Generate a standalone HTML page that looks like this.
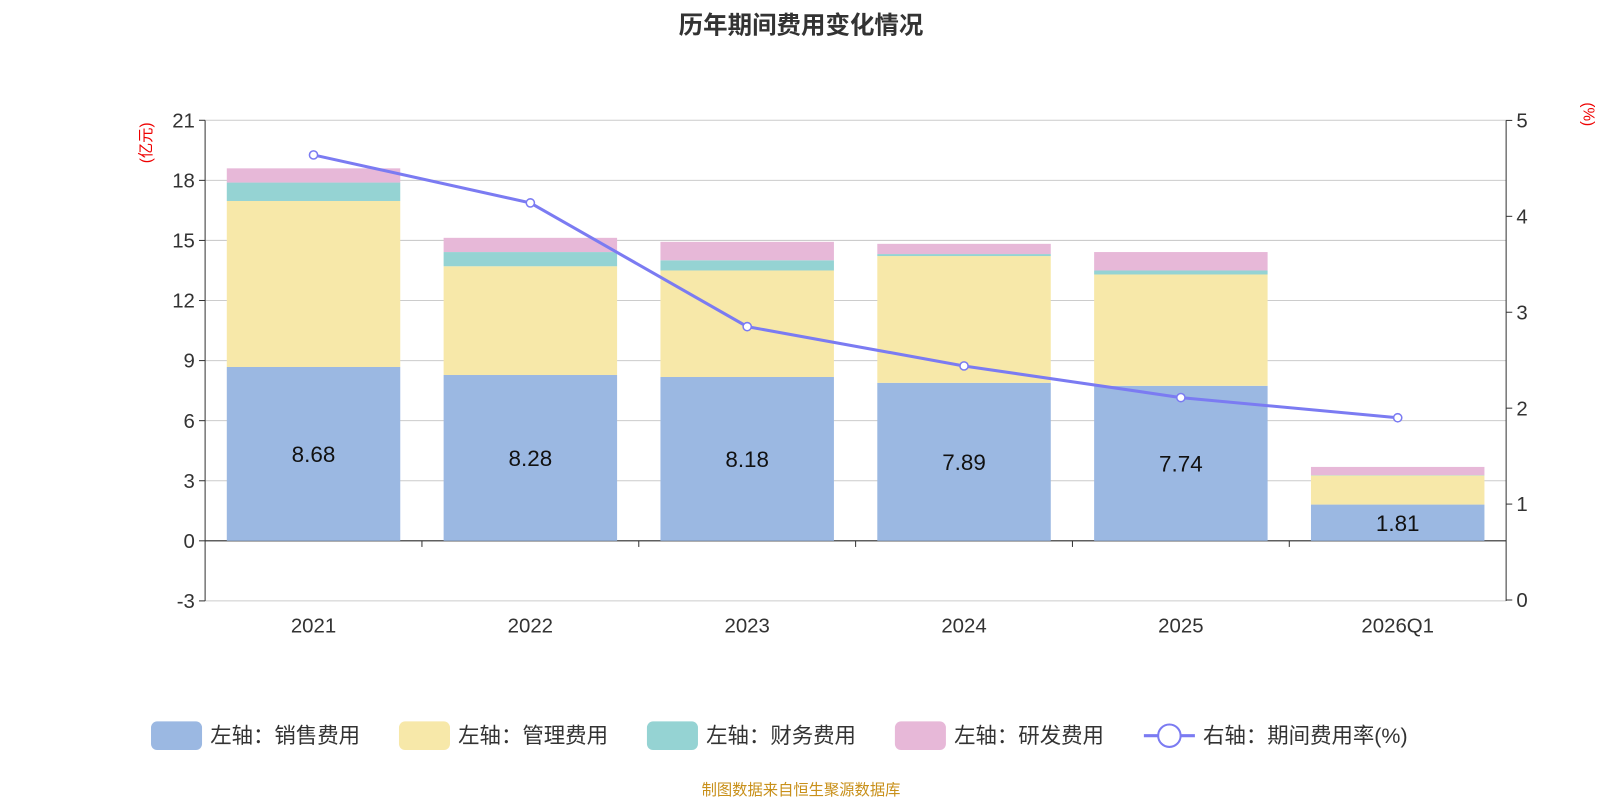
<!DOCTYPE html>
<html><head><meta charset="utf-8"><style>
body{margin:0;background:#fff;width:1600px;height:800px;overflow:hidden;font-family:"Liberation Sans","Noto Sans CJK SC",sans-serif}
</style></head><body>
<svg id="c" width="1600" height="800" viewBox="0 0 1568 784" xmlns="http://www.w3.org/2000/svg">
<text x="785" y="33" text-anchor="middle" font-size="24" font-weight="bold" fill="#333">历年期间费用变化情况</text>
<text transform="translate(148,140) rotate(-90)" text-anchor="middle" font-size="15" fill="#e00">(亿元)</text>
<text transform="translate(1552,112) rotate(90)" text-anchor="middle" font-size="15" fill="#e00">(%)</text>
<text x="785" y="779" text-anchor="middle" font-size="15" fill="#c8901a">制图数据来自恒生聚源数据库</text>
</svg>
<script>
const categories=["2021","2022","2023","2024","2025","2026Q1"];
const sales=[8.68,8.28,8.18,7.89,7.74,1.81];
const mgmt=[8.29,5.43,5.32,6.33,5.56,1.45];
const fin=[0.92,0.71,0.51,0.10,0.20,0.02];
const rnd=[0.71,0.71,0.92,0.51,0.92,0.41];
const rate=[4.64,4.14,2.85,2.44,2.11,1.90];
const leftTicks=[-3,0,3,6,9,12,15,18,21];
const rightTicks=[0,1,2,3,4,5];
const svg=document.getElementById('c');const NS="http://www.w3.org/2000/svg";
const X0=201,X1=1476,band=(X1-X0)/categories.length;
const yL=v=>530-v*19.625, yR=v=>588-v*94, xc=i=>X0+band*(i+0.5);
function el(t,a,p){const e=document.createElementNS(NS,t);for(const k in a)e.setAttribute(k,a[k]);(p||svg).appendChild(e);return e;}
leftTicks.forEach(v=>{
 const g=el('line',{x1:X0,x2:X1,y1:yL(v),y2:yL(v),stroke:'#ccc'});
 
 
 el('line',{x1:X0-6,x2:X0,y1:yL(v),y2:yL(v),stroke:'#333'});
 const t=el('text',{x:X0-10,y:yL(v)+7,'text-anchor':'end','font-size':20,fill:'#333'});t.textContent=v;
 
 
});
rightTicks.forEach(v=>{
 el('line',{x1:X1,x2:X1+6,y1:yR(v),y2:yR(v),stroke:'#333'});
 const t=el('text',{x:X1+10,y:yR(v)+7,'font-size':20,fill:'#333'});t.textContent=v;
 
 
});
el('line',{x1:X0,x2:X0,y1:118,y2:589,stroke:'#333'});
el('line',{x1:X1,x2:X1,y1:118,y2:589,stroke:'#333'});
el('line',{x1:X0,x2:X1,y1:530,y2:530,stroke:'#333'});
const series=[[sales,'#9bb8e2','sales'],[mgmt,'#f7e8a9','mgmt'],[fin,'#95d3d3','finance'],[rnd,'#e7b8d8','rnd']];
categories.forEach((c,i)=>{
 let base=0;
 series.forEach(([arr,col,nm])=>{
  const r=el('rect',{x:xc(i)-85,width:170,y:yL(base+arr[i]),height:arr[i]*19.625,fill:col});
  
  
  base+=arr[i];
 });
 const t=el('text',{x:xc(i),y:(yL(sales[i])+530)/2+8,'text-anchor':'middle','font-size':22,fill:'#111'});t.textContent=sales[i].toFixed(2);
 
 
 if(i>0)el('line',{x1:X0+band*i,x2:X0+band*i,y1:530,y2:536,stroke:'#333'});
 const xl=el('text',{x:xc(i),y:620,'text-anchor':'middle','font-size':20,fill:'#333'});xl.textContent=c;
 
 
});
const pl=el('polyline',{points:rate.map((v,i)=>xc(i)+','+yR(v)).join(' '),fill:'none',stroke:'#7b7bf2','stroke-width':3});


rate.forEach((v,i)=>{const p=el('circle',{cx:xc(i),cy:yR(v),r:4,fill:'#fff',stroke:'#7b7bf2','stroke-width':1.5});
 
 });
const leg=[['左轴：销售费用','#9bb8e2',148],['左轴：管理费用','#f7e8a9',391],['左轴：财务费用','#95d3d3',634],['左轴：研发费用','#e7b8d8',877]];
leg.forEach(([t,c,x])=>{
 const g=el('g',{});
 el('rect',{x:x,y:707,width:50,height:28,rx:6,fill:c},g);
 const tx=el('text',{x:x+58,y:728,'font-size':21,fill:'#333'},g);tx.textContent=t;
});
const g=el('g',{});
el('line',{x1:1121,x2:1171,y1:721,y2:721,stroke:'#7b7bf2','stroke-width':3},g);
el('circle',{cx:1146,cy:721,r:11,fill:'#fff',stroke:'#7b7bf2','stroke-width':2},g);
const tx=el('text',{x:1179,y:728,'font-size':21,fill:'#333'},g);tx.textContent='右轴：期间费用率(%)';
</script>
</body></html>
